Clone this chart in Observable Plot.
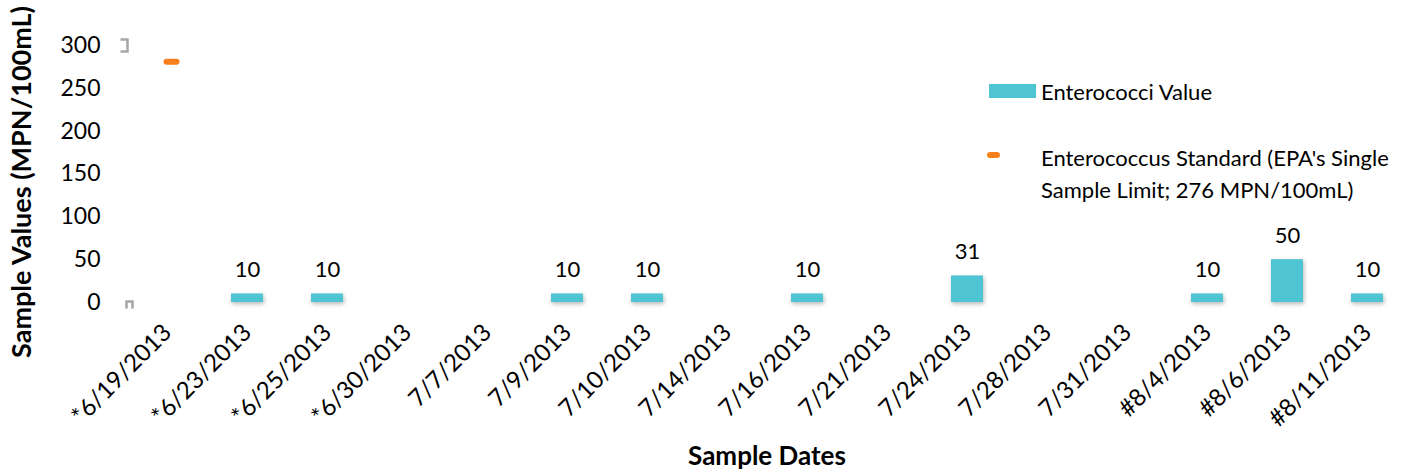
<!DOCTYPE html>
<html>
<head>
<meta charset="utf-8">
<script src="https://cdn.jsdelivr.net/npm/d3@7"></script>
<script src="https://cdn.jsdelivr.net/npm/@observablehq/plot@0.6"></script>
<style>
  html, body { margin: 0; padding: 0; background: #fff; }
  #wrap { position: relative; width: 1408px; height: 474px; font-family: Lato, "Open Sans", sans-serif; overflow: hidden; }
  #wrap svg { font-family: Lato, "Open Sans", sans-serif; }
  g[aria-label="x-axis label"] text { font-weight: bold; font-size: 26px; }
  g[aria-label="bar"] rect { filter: drop-shadow(1px 2px 2px rgba(0,0,0,0.28)); }
  .leg { position: absolute; font-size: 22px; color: #000; line-height: 32px; }
  .sw1 { position: absolute; left: 989px; top: 84px; width: 47px; height: 14px; background: #4fc4d2; }
  .sw2 { position: absolute; left: 987px; top: 152px; width: 13px; height: 6px; border-radius: 3px; background: #f7801c; }
</style>
</head>
<body>
<div id="wrap">
  <div class="sw1"></div>
  <div class="leg" style="left:1041px; top:76px;">Enterococci Value</div>
  <div class="sw2"></div>
  <div class="leg" style="left:1041px; top:142px;">Enterococcus Standard (EPA's Single<br>Sample Limit; 276 MPN/100mL)</div>
</div>
<script>
const dates = ["*6/19/2013","*6/23/2013","*6/25/2013","*6/30/2013","7/7/2013","7/9/2013","7/10/2013","7/14/2013","7/16/2013","7/21/2013","7/24/2013","7/28/2013","7/31/2013","#8/4/2013","#8/6/2013","#8/11/2013"];
const enterococci = [null,10,10,null,null,10,10,null,10,null,31,null,null,10,50,10];
const standardDates = ["*6/19/2013"];
const standardValues = [281];
const yTicks = [0,50,100,150,200,250,300];
const bracketValues = [300, 0];
const yTitle = "Sample Values (MPN/100mL)";

const bars = dates.map((d, i) => ({date: d, value: enterococci[i]})).filter(d => d.value != null);
const standard = standardDates.map((d, i) => ({date: d, value: standardValues[i]}));
const brackets = bracketValues.map(v => ({date: dates[0], value: v}));

const dashSymbol = {draw(ctx) { ctx.moveTo(-5, 0); ctx.lineTo(5, 0); }};
const topBracket = {draw(ctx) { ctx.moveTo(-4, -6); ctx.lineTo(3, -6); ctx.lineTo(3, 6); ctx.lineTo(-4, 6); }};
const bottomBracket = {draw(ctx) { ctx.moveTo(-3, 6); ctx.lineTo(-3, -1); ctx.lineTo(3, -1); ctx.lineTo(3, 6); }};

const chart = Plot.plot({
  width: 1408,
  height: 474,
  marginLeft: 125,
  marginRight: 0,
  marginTop: 45,
  marginBottom: 172,
  x: {type: "band", domain: dates, paddingInner: 0.6, paddingOuter: 0.3},
  y: {domain: [0, 300]},
  marks: [
    Plot.axisY({ticks: yTicks, tickSize: 0, tickPadding: 25, fontSize: 23, label: null}),
    Plot.text([yTitle], {frameAnchor: "left", text: d => d, rotate: -90, textAnchor: "middle", lineAnchor: "middle", dx: -103, dy: 8, fontSize: 27, fontWeight: "bold", fill: "#000"}),
    Plot.axisX({tickRotate: -45, tickSize: 0, tickPadding: 26, fontSize: 24, label: "Sample Dates", labelAnchor: "center", labelOffset: 162, labelArrow: "none"}),
    Plot.barY(bars, {x: "date", y: "value", fill: "#4fc4d2"}),
    Plot.text(bars, {x: "date", y: "value", text: d => String(d.value), dy: -24, fontSize: 22, fill: "#000"}),
    Plot.dot(standard, {x: "date", y: "value", symbol: dashSymbol, r: 5, dx: 4, stroke: "#f7801c", strokeWidth: 6, strokeLinecap: "round"}),
    Plot.dot(brackets.filter(d => d.value === 300), {x: "date", y: "value", symbol: topBracket, dx: -43, stroke: "#a6a6a6", strokeWidth: 2.5}),
    Plot.dot(brackets.filter(d => d.value === 0), {x: "date", y: "value", symbol: bottomBracket, dx: -38, stroke: "#a6a6a6", strokeWidth: 2.5})
  ]
});
document.getElementById("wrap").appendChild(chart);
chart.style.position = "absolute";
chart.style.left = "0";
chart.style.top = "0";
</script>
</body>
</html>
